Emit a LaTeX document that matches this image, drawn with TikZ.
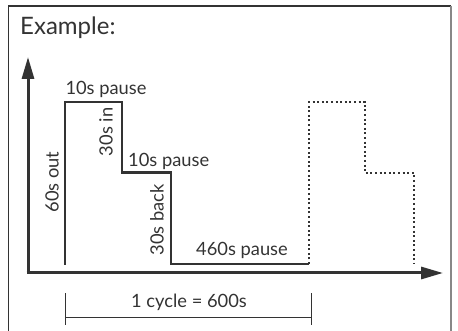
\documentclass[tikz,border=0pt]{standalone}
\usepackage{fontspec}
\setmainfont{Lato}
\usetikzlibrary{arrows.meta}
\definecolor{ink}{HTML}{333333}
\definecolor{edge}{HTML}{888888}
\begin{document}
\begin{tikzpicture}[x=1pt,y=-1pt, font=\fontsize{18.3}{21}\selectfont, text=ink,
  axis/.style={line width=3pt, draw=ink, -{Triangle[length=22pt,width=12pt]}},
  stepline/.style={line width=2.5pt, draw=ink, line join=miter},
  dotline/.style={line width=2.5pt, draw=ink, dash pattern=on 2pt off 2.6pt},
  thin/.style={line width=1pt, draw=ink},
  lbl/.style={inner sep=0pt}]
\useasboundingbox (0,0) rectangle (458,331);
% frame
\draw[line width=1.2pt, draw=ink] (8.5,340) -- (8.5,6) -- (451,6);
\draw[line width=2pt, draw=edge] (451,6) -- (451,340);
% title
\node[lbl, anchor=base west, font=\fontsize{24}{28}\selectfont] (title) at (20,35) {Example:};
% axes
\coordinate (o) at (28,273);
\coordinate (ytip) at (28,57);
\coordinate (xs) at (26.5,273);
\coordinate (xtip) at (443,273);
\draw[axis] (o) -- (ytip);
\draw[axis] (xs) -- (xtip);
% solid step profile
\coordinate (a0) at (65,265);
\coordinate (a1) at (65,102);
\coordinate (a2) at (122,102);
\coordinate (a3) at (122,172.5);
\coordinate (a4) at (171,172.5);
\coordinate (a5) at (171,264);
\coordinate (a6) at (309,264);
\draw[stepline] (a0) -- (a1) -- (a2) -- (a3) -- (a4) -- (a5) -- (a6);
% dotted next cycle
\coordinate (b1) at (309,102);
\coordinate (b2) at (365,102);
\coordinate (b3) at (365,173);
\coordinate (b4) at (414,173);
\coordinate (b5) at (414,263);
\draw[dotline] (a6) -- (b1) -- (b2) -- (b3) -- (b4) -- (b5);
% labels
\node[lbl, anchor=base] (l1) at (106,95) {10s pause};
\node[lbl, rotate=90] (l2) at (106,132) {30s in};
\node[lbl, anchor=base west] (l3) at (128,167) {10s pause};
\node[lbl, rotate=90] (l4) at (52,182) {60s out};
\node[lbl, rotate=90] (l5) at (157,220) {30s back};
\node[lbl, anchor=base] (l6) at (242,256) {460s pause};
\node[lbl, anchor=base] (l7) at (189,307) {1 cycle = 600s};
% cycle bracket
\coordinate (c1) at (65,293);
\coordinate (c2) at (65,325);
\coordinate (c3) at (65,317);
\coordinate (c4) at (311,317);
\coordinate (c5) at (311,293);
\coordinate (c6) at (311,325);
\draw[thin] (c1) -- (c2);
\draw[thin] (c3) -- (c4);
\draw[thin] (c5) -- (c6);
\end{tikzpicture}
\end{document}
